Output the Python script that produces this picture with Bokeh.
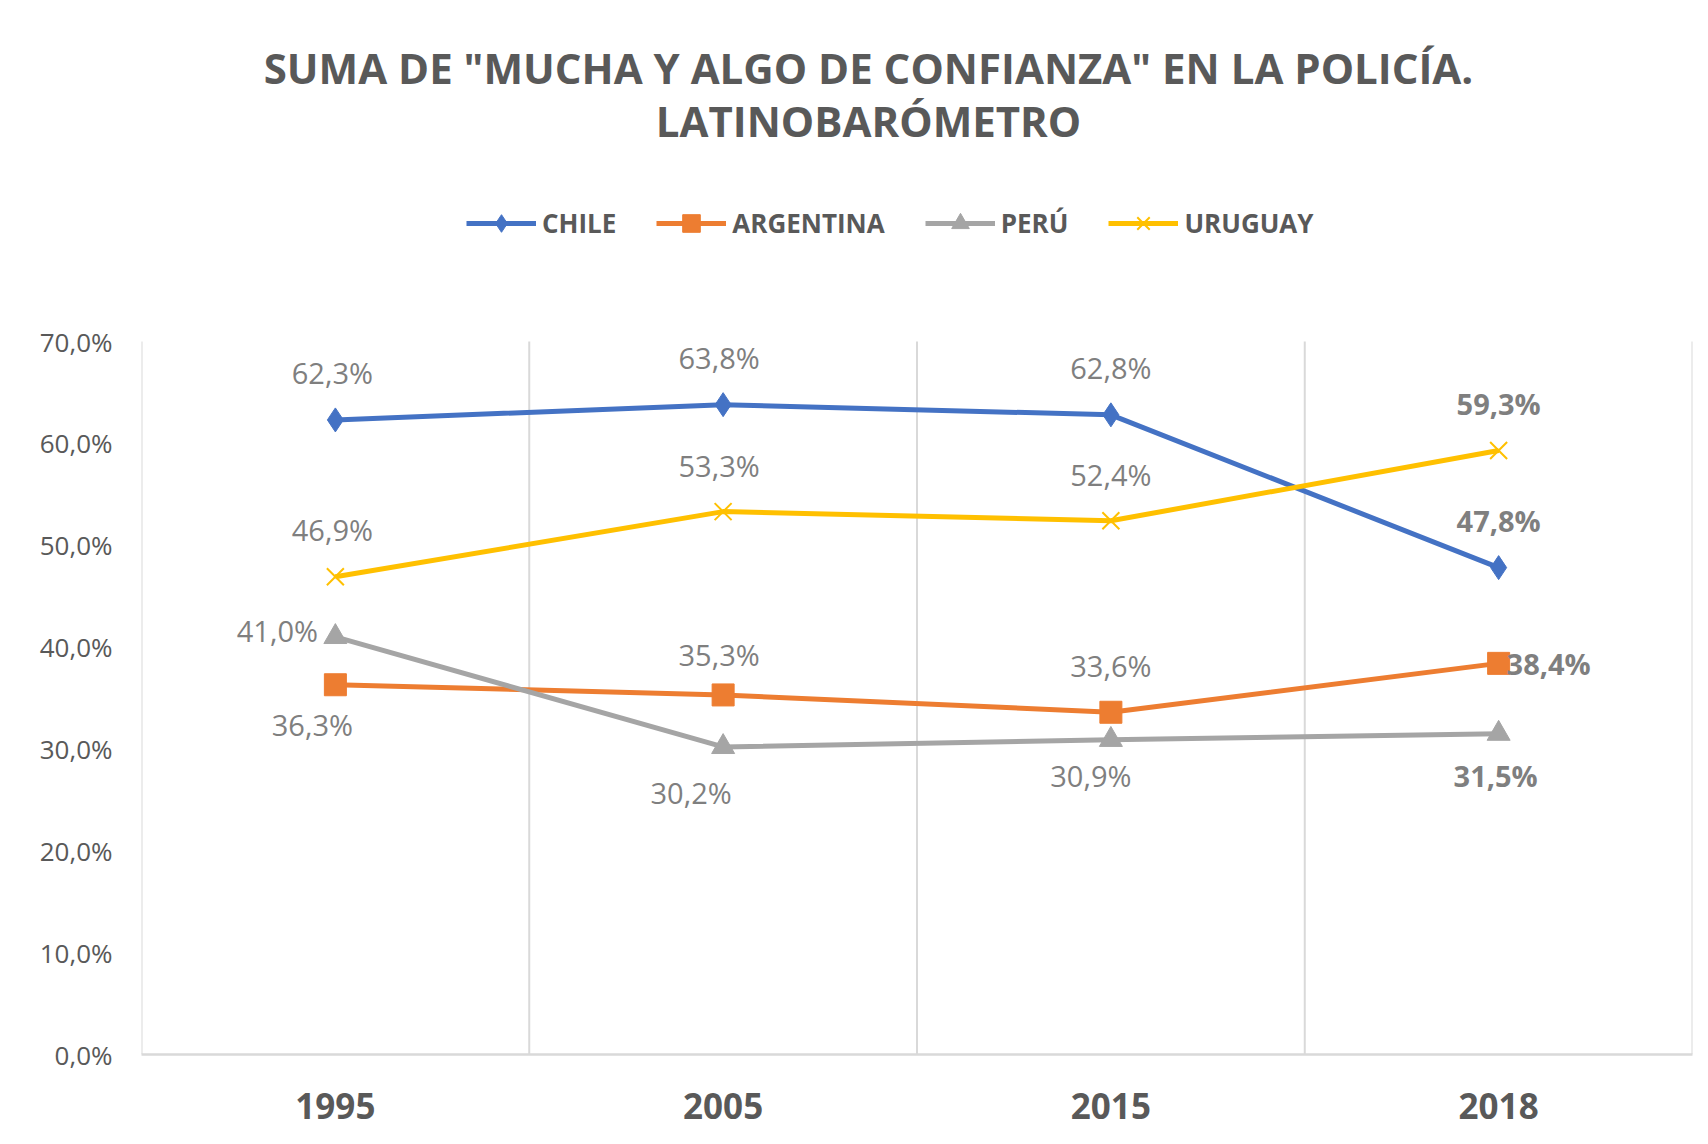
from bokeh.plotting import figure
from bokeh.models import (ColumnDataSource, FixedTicker, Label, LabelSet, Legend,
                          LegendItem, Range1d)
from bokeh.core.properties import value
from bokeh.embed import file_html
from bokeh.resources import INLINE

# ---------------- data ----------------
years = ["1995", "2005", "2015", "2018"]
series_names = ["CHILE", "ARGENTINA", "PERÚ", "URUGUAY"]
chile = [62.3, 63.8, 62.8, 47.8]
argentina = [36.3, 35.3, 33.6, 38.4]
peru = [41.0, 30.2, 30.9, 31.5]
uruguay = [46.9, 53.3, 52.4, 59.3]
y_ticks = [0, 10, 20, 30, 40, 50, 60, 70]
y_tick_labels = ["0,0%", "10,0%", "20,0%", "30,0%", "40,0%", "50,0%", "60,0%", "70,0%"]
title_line1 = 'SUMA DE "MUCHA Y ALGO DE CONFIANZA" EN LA POLICÍA.'
title_line2 = "LATINOBARÓMETRO"

# ---------------- styles / layout ----------------
colors = ["#4472C4", "#ED7D31", "#A5A5A5", "#FFC000"]
markers = ["diamond", "square", "triangle", "x"]
marker_sizes = [24, 22, 23, 24]
label_offsets = [
    [(-3, 47), (-4, 47), (0, 47), (0, 47)],
    [(-23, -40), (-4, 40), (0, 47), (50, 0)],
    [(-58, 6), (-32, -46), (-20, -36), (-3, -42)],
    [(-3, 47), (-4, 46), (0, 46), (0, 47)],
]
FONT = "Open Sans"
TXT = "#595959"
W, H = 1700, 1136
BORDER_L, BORDER_R, BORDER_B = 141, 8, 82
FRAME_H = H - BORDER_B
PLOT_TOP_PX = 341           # pixel row of the 70 % line
y_top = y_ticks[-1] * FRAME_H / (FRAME_H - PLOT_TOP_PX)

xpos = [i + 0.5 for i in range(len(years))]
bounds = list(range(len(years) + 1))
values = [chile, argentina, peru, uruguay]

p = figure(width=W, height=H, title=None,
           x_range=Range1d(0, len(years)), y_range=Range1d(0, y_top),
           output_backend="svg", toolbar_location=None,
           min_border_left=BORDER_L, min_border_right=BORDER_R,
           min_border_top=0, min_border_bottom=BORDER_B)
p.outline_line_color = None
p.background_fill_color = "white"
p.border_fill_color = "white"
p.xgrid.visible = False
p.ygrid.visible = False

# vertical separators between categories (only over the value range)
p.segment(x0=bounds, y0=[y_ticks[0]] * len(bounds), x1=bounds, y1=[y_ticks[-1]] * len(bounds),
          line_color="#d9d9d9", line_width=2)

# x axis
p.xaxis.ticker = FixedTicker(ticks=xpos)
p.xaxis.major_label_overrides = {x: y for x, y in zip(xpos, years)}
p.xaxis.axis_line_color = "#d9d9d9"
p.xaxis.axis_line_width = 2.5
p.xaxis.major_tick_line_color = None
p.xaxis.minor_tick_line_color = None
p.xaxis.major_label_text_font = FONT
p.xaxis.major_label_text_font_style = "bold"
p.xaxis.major_label_text_font_size = "35px"
p.xaxis.major_label_text_color = TXT
p.xaxis.major_label_standoff = 32

# y axis
p.yaxis.ticker = FixedTicker(ticks=y_ticks)
p.yaxis.bounds = (y_ticks[0], y_ticks[-1])
p.yaxis.major_label_overrides = {t: l for t, l in zip(y_ticks, y_tick_labels)}
p.yaxis.axis_line_color = None
p.yaxis.major_tick_line_color = None
p.yaxis.minor_tick_line_color = None
p.yaxis.major_label_text_font = FONT
p.yaxis.major_label_text_font_size = "26px"
p.yaxis.major_label_text_color = TXT
p.yaxis.major_label_standoff = 23

items = []
for name, vals, c, m, ms in zip(series_names, values, colors, markers, marker_sizes):
    src = ColumnDataSource(dict(x=xpos, y=vals))
    ln = p.line("x", "y", source=src, line_color=c, line_width=5)
    if m == "x":
        sc = p.scatter("x", "y", source=src, marker=m, size=ms, line_color=c, line_width=2)
    else:
        sc = p.scatter("x", "y", source=src, marker=m, size=ms, fill_color=c, line_color=c)
    items.append(LegendItem(label=name, renderers=[ln, sc]))

# data labels
for bold in (False, True):
    xs, ys, ts, dxs, dys = [], [], [], [], []
    for vals, offs in zip(values, label_offsets):
        for i, (x, v) in enumerate(zip(xpos, vals)):
            if (i == len(xpos) - 1) != bold:
                continue
            xs.append(x); ys.append(v)
            ts.append(f"{v:.1f}".replace(".", ",") + "%")
            dxs.append(offs[i][0]); dys.append(offs[i][1])
    lsrc = ColumnDataSource(dict(x=xs, y=ys, t=ts, dx=dxs, dy=dys))
    p.add_layout(LabelSet(x="x", y="y", text="t", x_offset="dx", y_offset="dy", source=lsrc,
                          text_align="center", text_baseline="middle",
                          text_font=value(FONT), text_font_size=value("29px"),
                          text_font_style=value("bold" if bold else "normal"),
                          text_color=value("#7f7f7f")))

# legend (frame-relative screen position)
legend = Legend(items=items, orientation="horizontal", location=(325, 809),
                label_text_font=FONT, label_text_font_style="bold",
                label_text_font_size="26px", label_text_color=TXT,
                glyph_width=70, glyph_height=44, label_standoff=6, spacing=40,
                padding=0, margin=0, border_line_color=None, background_fill_alpha=0)
p.add_layout(legend, "center")

# two-line title
for txt, ty in ((title_line1, FRAME_H - 67), (title_line2, FRAME_H - 120)):
    p.add_layout(Label(x=727, y=ty, x_units="screen", y_units="screen", text=txt,
                       text_align="center", text_baseline="middle",
                       text_font=FONT, text_font_style="bold", text_font_size="42px",
                       text_color=TXT))

open("out.html", "w").write(file_html(p, INLINE))
